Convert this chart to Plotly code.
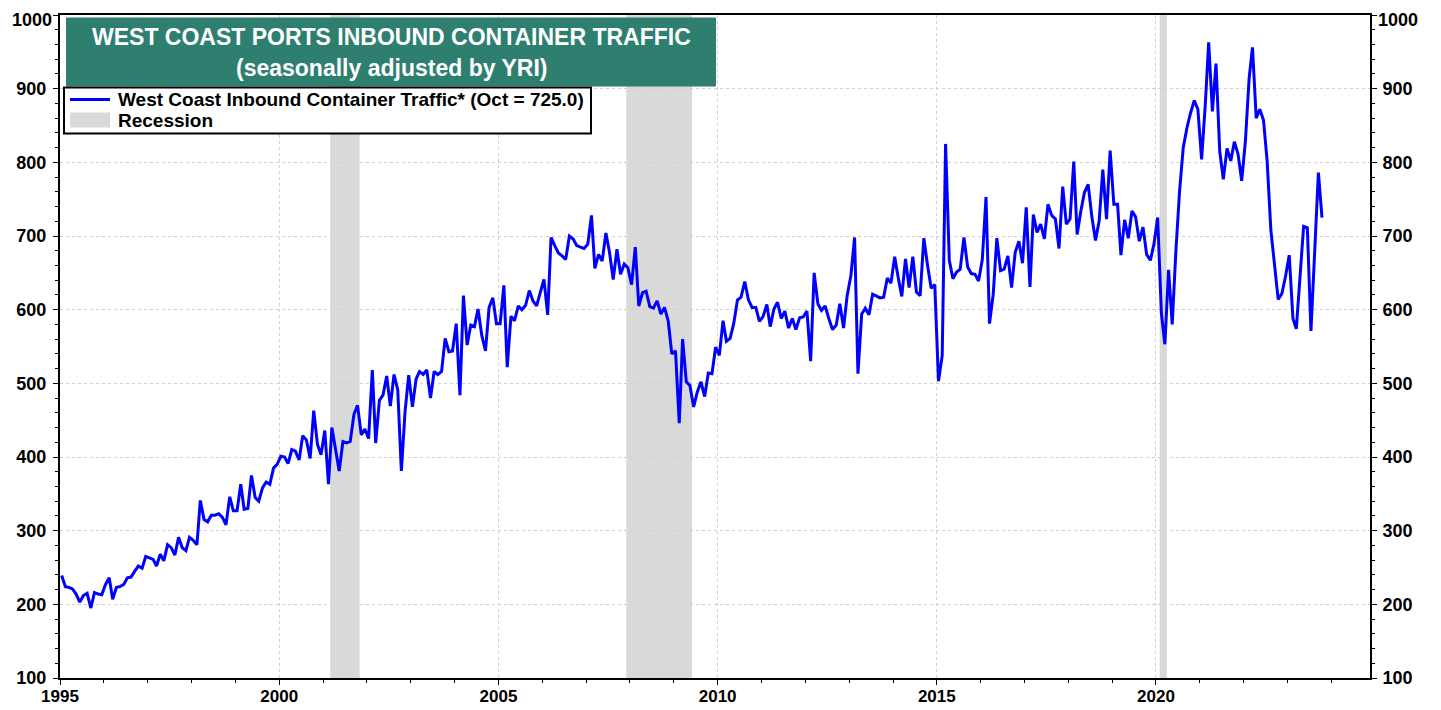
import plotly.graph_objects as go

# Monthly values (Jan..Dec)
v1995 = [239, 224, 223, 221, 214, 203, 212, 215, 195, 216, 214, 213]
v1996 = [227, 236, 207, 223, 224, 227, 236, 237, 245, 252, 249, 265]
v1997 = [263, 261, 252, 268, 259, 281, 277, 267, 291, 277, 273, 291]
v1998 = [287, 281, 341, 315, 312, 321, 321, 323, 318, 308, 346, 327]
v1999 = [327, 363, 329, 330, 375, 345, 340, 358, 366, 363, 385, 390]
v2000 = [401, 400, 391, 410, 408, 396, 429, 423, 398, 463, 417, 403]
v2001 = [436, 363, 440, 412, 381, 421, 419, 421, 458, 470, 430, 438]
v2002 = [425, 518, 419, 477, 484, 510, 469, 512, 491, 381, 462, 511]
v2003 = [468, 506, 516, 512, 518, 480, 516, 512, 516, 561, 543, 544]
v2004 = [581, 484, 619, 552, 579, 577, 601, 565, 544, 603, 616, 581]
v2005 = [581, 633, 522, 591, 585, 605, 600, 606, 626, 612, 605, 623]
v2006 = [641, 593, 698, 687, 677, 673, 668, 700, 696, 687, 685, 683]
v2007 = [689, 728, 656, 675, 666, 704, 678, 641, 682, 648, 662, 657]
v2008 = [634, 685, 605, 623, 625, 604, 602, 612, 594, 603, 585, 540]
v2009 = [544, 446, 560, 502, 497, 468, 488, 502, 482, 514, 513, 549]
v2010 = [538, 585, 557, 561, 581, 613, 617, 638, 613, 603, 603, 584]
v2011 = [591, 607, 577, 601, 610, 588, 598, 575, 588, 573, 589, 590]
v2012 = [598, 530, 650, 608, 599, 605, 588, 573, 579, 608, 575, 619]
v2013 = [646, 698, 513, 594, 602, 593, 621, 619, 616, 617, 643, 636]
v2014 = [672, 642, 618, 669, 630, 672, 624, 619, 697, 661, 629, 634]
v2015 = [503, 538, 825, 667, 642, 651, 655, 698, 658, 649, 648, 639]
v2016 = [668, 753, 581, 621, 697, 653, 655, 673, 630, 678, 693, 663]
v2017 = [739, 631, 729, 705, 716, 696, 743, 728, 723, 683, 767, 716]
v2018 = [723, 801, 702, 734, 759, 770, 727, 694, 721, 790, 723, 816]
v2019 = [743, 743, 674, 722, 697, 734, 726, 693, 712, 675, 667, 689]
v2020 = [725, 595, 553, 654, 580, 680, 760, 820, 847, 867, 884, 872]
v2021 = [804, 879, 963, 869, 934, 815, 777, 819, 802, 828, 811, 775]
v2022 = [829, 914, 956, 860, 872, 857, 802, 708, 663, 614, 622, 645]
v2023 = [674, 588, 574, 645, 713, 711, 571, 678, 786, 725]

years = list(range(1995, 2024))
by_year = [v1995, v1996, v1997, v1998, v1999, v2000, v2001, v2002, v2003, v2004,
           v2005, v2006, v2007, v2008, v2009, v2010, v2011, v2012, v2013, v2014,
           v2015, v2016, v2017, v2018, v2019, v2020, v2021, v2022, v2023]

rec_start = ["2001-03-01", "2007-12-01", "2020-02-01"]
rec_end = ["2001-11-01", "2009-06-01", "2020-04-01"]

tick_years = [1995, 2000, 2005, 2010, 2015, 2020]
y_ticks = [100, 200, 300, 400, 500, 600, 700, 800, 900, 1000]
y_top = 1000

series_name = "West Coast Inbound Container Traffic* (Oct = 725.0)"
title1 = "WEST COAST PORTS INBOUND CONTAINER TRAFFIC"
title2 = "(seasonally adjusted by YRI)"

dates, values = [], []
for yr, vals in zip(years, by_year):
    for j, v in enumerate(vals):
        dates.append(f"{yr}-{j + 1:02d}-15")
        values.append(v)

OFF = 8  # page body margin
W, H = 1425, 700
# plot area in screen pixels
SX0, SX1, SY0, SY1 = 60, 1370, 14.5, 678
L, T = SX0 - OFF, SY0 - OFF
R, B = W - (SX1 - OFF), H - (SY1 - OFF)
PW, PH = SX1 - SX0, SY1 - SY0


def px(x):
    return (x - SX0) / PW


def py(y):
    return (SY1 - y) / PH


FONT = "Liberation Sans, Arial"

fig = go.Figure()

fig.add_trace(go.Scatter(x=dates, y=values, mode="lines",
                         line=dict(color="#0000FF", width=3),
                         showlegend=False, hoverinfo="x+y"))
# invisible trace to activate the right-hand axis
fig.add_trace(go.Scatter(x=[dates[0]], y=[values[0]], yaxis="y2", mode="lines",
                         line=dict(width=0), showlegend=False, hoverinfo="skip"))

shapes = []
for s, e in zip(rec_start, rec_end):
    shapes.append(dict(type="rect", xref="x", yref="paper", x0=s, x1=e, y0=0, y1=1,
                       fillcolor="#d9d9d9", line=dict(width=0), layer="below"))

# title box
shapes.append(dict(type="rect", xref="paper", yref="paper",
                   x0=px(66), x1=px(716), y0=py(86), y1=py(17),
                   fillcolor="#2e7f70", line=dict(width=0), layer="above"))
# legend box
shapes.append(dict(type="rect", xref="paper", yref="paper",
                   x0=px(64), x1=px(591), y0=py(133), y1=py(87),
                   fillcolor="white", line=dict(color="black", width=2), layer="above"))
shapes.append(dict(type="line", xref="paper", yref="paper",
                   x0=px(70), x1=px(110), y0=py(99), y1=py(99),
                   line=dict(color="#0000FF", width=3), layer="above"))
shapes.append(dict(type="rect", xref="paper", yref="paper",
                   x0=px(70), x1=px(110), y0=py(127), y1=py(112),
                   fillcolor="#d9d9d9", line=dict(width=0), layer="above"))

TICK_SIZE = 18
annotations = [
    dict(xref="paper", yref="paper", x=px(391), y=py(37), text=title1, showarrow=False,
         xanchor="center", yanchor="middle",
         font=dict(family=FONT, size=23, color="white", weight="bold")),
    dict(xref="paper", yref="paper", x=px(391), y=py(68), text=title2, showarrow=False,
         xanchor="center", yanchor="middle",
         font=dict(family=FONT, size=23, color="white", weight="bold")),
    dict(xref="paper", yref="paper", x=px(116), y=py(99), text=series_name, showarrow=False,
         xanchor="left", yanchor="middle",
         font=dict(family=FONT, size=19, color="black", weight="bold")),
    dict(xref="paper", yref="paper", x=px(116), y=py(120), text="Recession", showarrow=False,
         xanchor="left", yanchor="middle",
         font=dict(family=FONT, size=19, color="black", weight="bold")),
    # top tick labels placed as annotations so they stay inside the page
    dict(xref="paper", yref="paper", x=px(53), y=py(OFF), text=str(y_top), showarrow=False,
         xanchor="right", yanchor="top", borderpad=0,
         font=dict(family=FONT, size=TICK_SIZE, color="black", weight="bold")),
    dict(xref="paper", yref="paper", x=px(1377), y=py(OFF), text=str(y_top), showarrow=False,
         xanchor="left", yanchor="top", borderpad=0,
         font=dict(family=FONT, size=TICK_SIZE, color="black", weight="bold")),
]

tickfont = dict(family=FONT, size=TICK_SIZE, color="black", weight="bold")
y_text = ["" if t == y_top else str(t) for t in y_ticks]
GRID = "#d0d0d0"

fig.update_layout(
    width=W, height=H,
    margin=dict(l=L, r=R, t=T, b=B, autoexpand=False),
    paper_bgcolor="white", plot_bgcolor="white",
    shapes=shapes, annotations=annotations,
    showlegend=False,
    xaxis=dict(
        type="date", range=["1995-01-01", "2024-11-18"], automargin=False,
        tickvals=[f"{y}-01-01" for y in tick_years],
        ticktext=[str(y) for y in tick_years],
        showgrid=True, gridcolor=GRID, griddash="dot", gridwidth=1,
        ticks="outside", ticklen=5, tickcolor="black", tickwidth=1,
        ticklabelstandoff=-3, ticklabeloverflow="allow",
        minor=dict(tickvals=[f"{y}-01-01" for y in range(1995, 2025)],
                   ticks="outside", ticklen=3, tickcolor="black", showgrid=False),
        showline=True, linecolor="black", linewidth=2, mirror=True,
        tickfont=dict(family=FONT, size=17, color="black", weight="bold"),
        zeroline=False,
    ),
    yaxis=dict(
        range=[100, 1000], tickvals=y_ticks, ticktext=y_text, automargin=False,
        ticklabeloverflow="allow", ticklabelstandoff=3,
        showgrid=True, gridcolor=GRID, griddash="dot", gridwidth=1,
        ticks="outside", ticklen=5, tickcolor="black",
        minor=dict(dtick=20, tick0=100, ticks="outside", ticklen=3, tickcolor="black",
                   showgrid=False),
        showline=True, linecolor="black", linewidth=2,
        tickfont=tickfont, zeroline=False,
    ),
    yaxis2=dict(
        range=[100, 1000], tickvals=y_ticks, ticktext=y_text, overlaying="y",
        side="right", automargin=False, ticklabeloverflow="allow", ticklabelstandoff=2,
        showgrid=False, ticks="outside", ticklen=5, tickcolor="black",
        minor=dict(dtick=20, tick0=100, ticks="outside", ticklen=3, tickcolor="black"),
        showline=True, linecolor="black", linewidth=2,
        tickfont=tickfont, zeroline=False,
    ),
)

fig.write_html("out.html")
